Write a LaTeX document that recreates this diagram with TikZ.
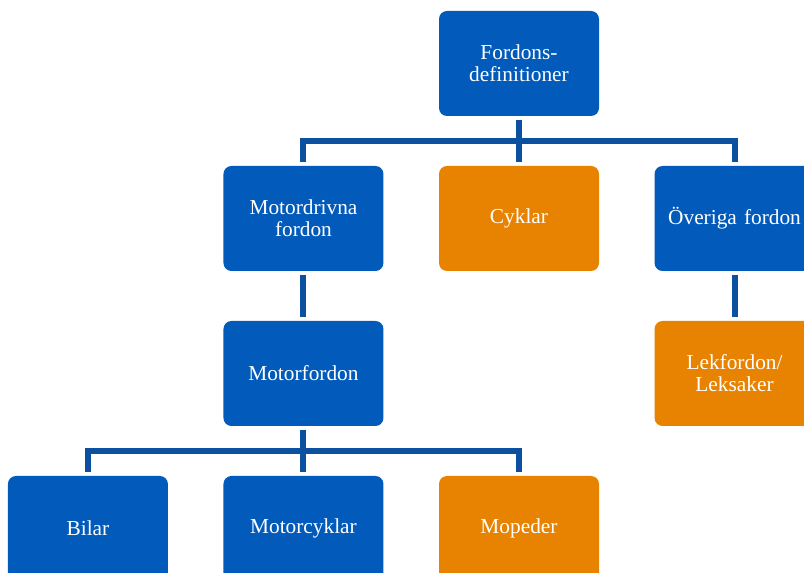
\documentclass[tikz,border=0pt]{standalone}
\usepackage{fontspec}
\setmainfont{Liberation Serif}
\usetikzlibrary{positioning}

\definecolor{boxblue}{RGB}{2,91,186}
\definecolor{boxorange}{RGB}{232,131,2}
\definecolor{linkblue}{RGB}{12,80,160}

\tikzset{
  block/.style={rectangle, rounded corners=6pt, minimum width=120pt, minimum height=78.75pt,
    text width=112pt, align=center, inner sep=2pt, text=white,
    font=\rmfamily\fontsize{16}{16.5}\selectfont},
  blueblock/.style={block, fill=boxblue},
  orangeblock/.style={block, fill=boxorange},
  link/.style={draw=linkblue, line width=4.5pt, shorten <=2.5pt, shorten >=3pt}
}

\begin{document}
\begin{tikzpicture}[x=0.75pt,y=-0.75pt,node distance=37.1pt and 41.25pt]
    \useasboundingbox (0,0) rectangle (804,573);

    \node[blueblock] (fordons) at (519,63.5) {Fordons-\\definitioner};
    \node[orangeblock, below = of fordons] (cyklar) {Cyklar};
    \node[blueblock, left = of cyklar] (motordrivna) {Motordrivna\\fordon};
    \node[blueblock, right = of cyklar] (overiga) {Överiga fordon};
    \node[blueblock, below = of motordrivna] (motorfordon) {Motorfordon};
    \node[orangeblock, below = of overiga] (lekfordon) {Lekfordon/\\Leksaker};
    \node[blueblock, below = of motorfordon] (motorcyklar) {Motorcyklar};
    \node[blueblock, left = of motorcyklar] (bilar) {Bilar};
    \node[orangeblock, right = of motorcyklar] (mopeder) {Mopeder};

    % top level -> second row
    \draw[link] (fordons) -- (cyklar);
    \draw[link] (fordons.south) -- ++(0,25) -| (motordrivna.north);
    \draw[link] (fordons.south) -- ++(0,25) -| (overiga.north);

    % single links
    \draw[link] (motordrivna) -- (motorfordon);
    \draw[link] (overiga) -- (lekfordon);

    % motorfordon -> bottom row
    \draw[link] (motorfordon) -- (motorcyklar);
    \draw[link] (motorfordon.south) -- ++(0,25) -| (bilar.north);
    \draw[link] (motorfordon.south) -- ++(0,25) -| (mopeder.north);
\end{tikzpicture}
\end{document}
